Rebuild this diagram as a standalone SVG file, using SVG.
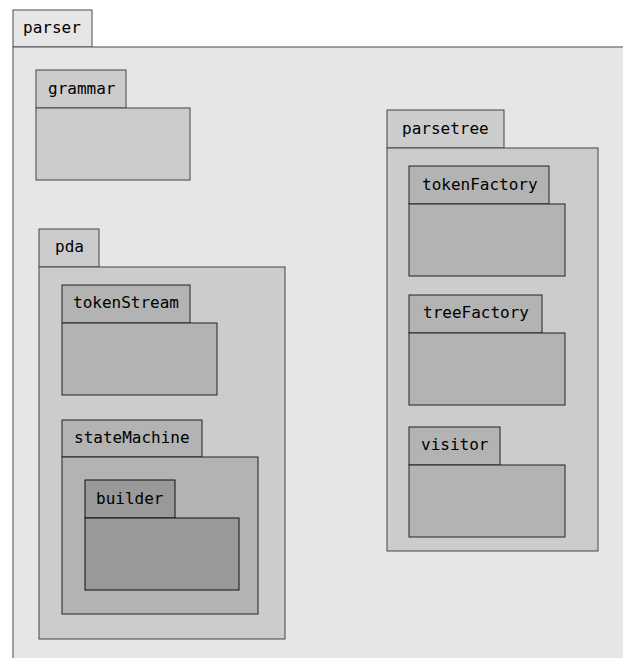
<svg xmlns="http://www.w3.org/2000/svg" width="623" height="658" viewBox="0 0 623 658">
<style>
text{font-family:"DejaVu Sans Mono",monospace;font-size:16px;fill:#000}
.l0{fill:#e6e6e6;stroke:#666;stroke-width:1.2}
.l1{fill:#cccccc;stroke:#444;stroke-width:1}
.l2{fill:#b3b3b3;stroke:#222;stroke-width:1}
.l3{fill:#999999;stroke:#111;stroke-width:1}
</style>
<rect width="623" height="658" fill="#ffffff"/>
<g id="parser">
<rect class="l0" x="13" y="10" width="79" height="37"/>
<rect class="l0" x="13" y="47" width="620" height="620"/>
<text x="23" y="33">parser</text>
</g>
<g id="grammar">
<rect class="l1" x="36" y="70" width="90" height="38"/>
<rect class="l1" x="36" y="108" width="154" height="72"/>
<text x="48" y="94">grammar</text>
</g>
<g id="pda">
<rect class="l1" x="39" y="229" width="60" height="38"/>
<rect class="l1" x="39" y="267" width="246" height="372"/>
<text x="55" y="252">pda</text>
</g>
<g id="tokenStream">
<rect class="l2" x="62" y="285" width="128" height="38"/>
<rect class="l2" x="62" y="323" width="155" height="72"/>
<text x="73" y="308">tokenStream</text>
</g>
<g id="stateMachine">
<rect class="l2" x="62" y="420" width="140" height="37"/>
<rect class="l2" x="62" y="457" width="196" height="157"/>
<text x="74" y="443">stateMachine</text>
</g>
<g id="builder">
<rect class="l3" x="85" y="480" width="90" height="38"/>
<rect class="l3" x="85" y="518" width="154" height="72"/>
<text x="96" y="504">builder</text>
</g>
<g id="parsetree">
<rect class="l1" x="387" y="110" width="117" height="38"/>
<rect class="l1" x="387" y="148" width="211" height="403"/>
<text x="402" y="134">parsetree</text>
</g>
<g id="tokenFactory">
<rect class="l2" x="409" y="166" width="140" height="38"/>
<rect class="l2" x="409" y="204" width="156" height="72"/>
<text x="422" y="190">tokenFactory</text>
</g>
<g id="treeFactory">
<rect class="l2" x="409" y="295" width="133" height="38"/>
<rect class="l2" x="409" y="333" width="156" height="72"/>
<text x="423" y="318">treeFactory</text>
</g>
<g id="visitor">
<rect class="l2" x="409" y="427" width="91" height="38"/>
<rect class="l2" x="409" y="465" width="156" height="72"/>
<text x="421" y="450">visitor</text>
</g>
<g id="connectors"></g>
</svg>
